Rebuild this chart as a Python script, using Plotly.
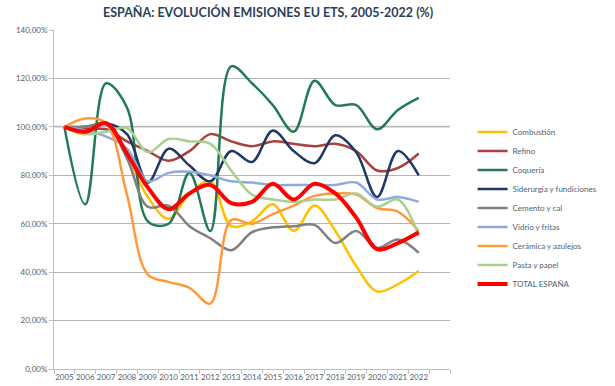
import plotly.graph_objects as go

years = list(range(2005, 2023))

combustion = [100, 97, 101.5, 88, 71, 62, 72.5, 77.5, 59, 61, 68, 57, 67.5, 57, 42.5, 32, 35, 40.5]
refino = [100, 99, 99, 94, 90, 86, 90, 97, 94, 92, 94, 93, 92, 93, 90, 82, 83, 89]
coqueria = [100, 68, 118, 108, 61, 60, 81, 57, 125, 118, 109, 98, 119, 109, 109, 99, 107, 112]
siderurgia = [100, 100, 101.5, 97, 77, 91, 84, 77.5, 90, 85.5, 98.5, 90, 85, 96.5, 89.5, 71, 90, 80]
cemento = [100, 100, 101, 87, 67, 67.5, 59, 54, 49, 56.5, 58.5, 59, 59.5, 52, 57, 50, 53.5, 48]
vidrio = [100, 98.5, 96, 91, 77.5, 81, 81.5, 80, 77.5, 77, 76, 76, 76, 76, 77, 70, 71, 69]
ceramica = [100, 103.5, 101.5, 72, 39, 36, 33.5, 27, 61.5, 60, 64, 67.5, 71.5, 72.5, 72, 66.5, 65, 57]
pasta = [100, 97, 98, 99.5, 89.5, 95, 94, 93, 82, 72, 70, 69, 70, 70, 72.5, 67, 70, 55]
total = [100, 98, 101.5, 89, 75, 66, 72.5, 76, 68.5, 69, 76.5, 70, 76.5, 72.5, 62.5, 49.5, 52, 56.5]

series_names = ["Combustión", "Refino", "Coquería", "Siderurgia y fundiciones", "Cemento y cal",
                "Vidrio y fritas", "Cerámica y azulejos", "Pasta y papel", "TOTAL ESPAÑA"]
series_values = [combustion, refino, coqueria, siderurgia, cemento, vidrio, ceramica, pasta, total]
series_colors = ["#FFC000", "#A9413C", "#237A57", "#1F3864", "#808080", "#8FAADC", "#FF9A3C", "#A9D18E", "#FF0000"]
series_widths = [2.5, 2.5, 2.5, 2.5, 2.5, 2.5, 2.5, 2.5, 4]

y_tickvals = [0, 20, 40, 60, 80, 100, 120, 140]
y_ticktext = ["0,00%", "20,00%", "40,00%", "60,00%", "80,00%", "100,00%", "120,00%", "140,00%"]
x_ticktext = [str(y) for y in years]

label_color = "#4F5F73"

fig = go.Figure()
for name, vals, col, w in zip(series_names, series_values, series_colors, series_widths):
    fig.add_trace(go.Scatter(
        x=years, y=vals, name=name, mode="lines",
        line=dict(color=col, width=w, shape="spline", smoothing=1.0),
    ))

fig.update_layout(
    width=615, height=386,
    margin=dict(l=54, r=142, t=30, b=14),
    paper_bgcolor="white", plot_bgcolor="white",
    font=dict(family="Lato, Open Sans, sans-serif", size=8, color=label_color),
    title=dict(
        text="<b>ESPAÑA: EVOLUCIÓN EMISIONES EU ETS, 2005-2022 (%)</b>",
        x=0.436, xanchor="center", y=0.968, yanchor="middle",
        font=dict(family="Lato, Open Sans, sans-serif", size=12.5, color="#2B3F5C"),
    ),
    showlegend=True,
    legend=dict(
        x=1.057, xanchor="left", y=0.475, yanchor="middle",
        font=dict(size=8, color=label_color),
        bgcolor="rgba(0,0,0,0)", itemwidth=30, tracegroupgap=0,
    ),
)

fig.update_xaxes(
    range=[2004.5, 2023.5],
    tickmode="array", tickvals=years, ticktext=x_ticktext, tickangle=0,
    ticks="", showgrid=False, zeroline=False, automargin=False,
    showline=True, linecolor="#BFBFBF", linewidth=1,
    tickfont=dict(size=8, color=label_color),
    minor=dict(tickvals=[y - 0.5 for y in years] + [2022.5, 2023.5], ticks="outside", ticklen=4,
               tickcolor="#BFBFBF", showgrid=False),
)

fig.update_yaxes(
    range=[0, 140],
    tickmode="array", tickvals=y_tickvals, ticktext=y_ticktext,
    ticks="outside", ticklen=4, tickcolor="#BFBFBF",
    showgrid=True, gridcolor="#B5B5B5", gridwidth=1, zeroline=False,
    showline=True, linecolor="#BFBFBF", linewidth=1,
    tickfont=dict(size=8, color=label_color),
)

fig.add_hline(y=100, line=dict(color="#D4D4D4", width=2), layer="below")

fig.write_html("out.html",
               config={"displayModeBar": False},
               post_script="document.body.style.margin='0';document.body.style.overflow='hidden';")
